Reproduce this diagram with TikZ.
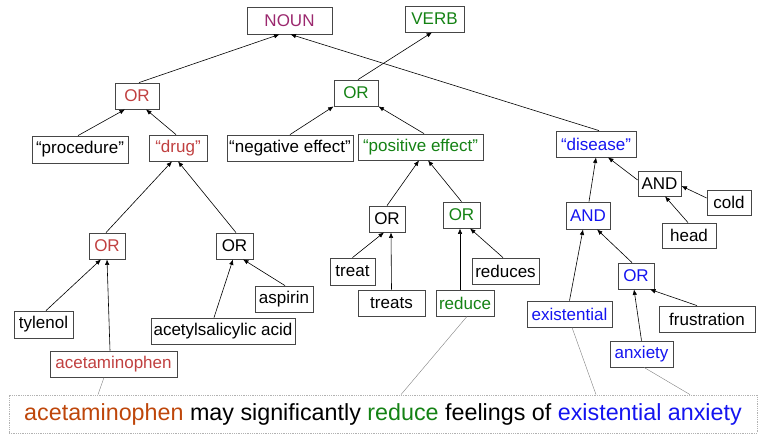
\documentclass[tikz,border=0pt]{standalone}
\usepackage{fontspec}
\setmainfont{Liberation Sans}
\usepackage{xcolor}
\usepackage{tikz}
\usetikzlibrary{arrows.meta}

\definecolor{cNoun}{RGB}{155,40,110}
\definecolor{cRed}{RGB}{192,64,64}
\definecolor{cAcet}{RGB}{190,70,10}
\definecolor{cGreen}{RGB}{20,130,20}
\definecolor{cBlue}{RGB}{20,20,240}
\definecolor{cBox}{RGB}{70,70,70}

\tikzset{
  box/.style={draw=cBox,line width=0.8pt,inner sep=0pt,minimum height=26pt,
    font=\fontsize{17}{19}\selectfont},
  arr/.style={-{Latex[length=5.5pt,width=4.5pt]},line width=0.6pt},
  link/.style={gray,line width=0.4pt}
}

\begin{document}
\begin{tikzpicture}[x=1pt,y=-1pt]
  \useasboundingbox (0,0) rectangle (768,441);
  \node[box,minimum width=85pt,minimum height=27pt,text=cNoun] (noun) at (289.5,20.5) {NOUN};
  \node[box,minimum width=59pt,text=cGreen] (verb) at (434.5,19) {VERB};
  \node[box,minimum width=44pt,text=cRed] (orNoun) at (137,96) {OR};
  \node[box,minimum width=44pt,text=cGreen] (orVerb) at (356,93) {OR};
  \node[box,minimum width=96pt,minimum height=27pt] (procedure) at (80,149.5) {“procedure”};
  \node[box,minimum width=58pt,text=cRed] (drug) at (178,148) {“drug”};
  \node[box,minimum width=126pt] (negEffect) at (290,148) {“negative effect”};
  \node[box,minimum width=125pt,text=cGreen] (posEffect) at (420.5,147) {“positive effect”};
  \node[box,minimum width=80pt,text=cBlue] (disease) at (596,144) {“disease”};
  \node[box,minimum width=43pt,minimum height=25pt] (andCold) at (659.5,183.5) {AND};
  \node[box,minimum width=44pt,minimum height=25pt] (cold) at (729,202.5) {cold};
  \node[box,minimum width=44pt,minimum height=27pt,text=cBlue] (andDis) at (588,215.5) {AND};
  \node[box,minimum width=54pt,minimum height=25pt] (head) at (689,235.5) {head};
  \node[box,minimum width=36pt,text=cBlue] (orAnx) at (636,276) {OR};
  \node[box,minimum width=96pt] (frustration) at (707,319) {frustration};
  \node[box,minimum width=85pt,text=cBlue] (existential) at (569.5,314) {existential};
  \node[box,minimum width=63pt,text=cBlue] (anxiety) at (641.5,354) {anxiety};
  \node[box,minimum width=67pt] (reduces) at (505.5,271) {reduces};
  \node[box,minimum width=58pt,text=cGreen] (reduce) at (465,303) {reduce};
  \node[box,minimum width=36pt] (orTreat) at (387,219) {OR};
  \node[box,minimum width=37pt,text=cGreen] (orReduce) at (461.5,215) {OR};
  \node[box,minimum width=45pt,minimum height=27pt] (treat) at (352.5,271.5) {treat};
  \node[box,minimum width=67pt] (treats) at (391.5,303) {treats};
  \node[box,minimum width=36pt,text=cRed] (orTyl) at (107,246) {OR};
  \node[box,minimum width=37pt] (orAsp) at (234.5,246) {OR};
  \node[box,minimum width=59pt,minimum height=27pt] (tylenol) at (43.5,324.5) {tylenol};
  \node[box,minimum width=144pt] (acetyl) at (223,331) {acetylsalicylic acid};
  \node[box,minimum width=58pt] (aspirin) at (284,299) {aspirin};
  \node[box,minimum width=127pt,text=cRed] (acetam) at (113.5,364) {acetaminophen};
  \node[draw=gray!60,densely dotted,line width=0.8pt,inner sep=0pt,minimum width=748pt,
    minimum height=38pt,font=\fontsize{23.3}{26}\selectfont] (sentence) at (383,414)
    {\textcolor{cAcet}{acetaminophen} may significantly \textcolor{cGreen}{reduce} feelings of \textcolor{cBlue}{existential anxiety}};

  \draw[arr] ([xshift=2pt]orNoun.north) -- ([xshift=-10pt]noun.south);
  \draw[arr] ([xshift=3pt]disease.north) -- ([xshift=1pt]noun.south);
  \draw[arr] ([xshift=2pt]orVerb.north) -- ([xshift=-2.5pt]verb.south);
  \draw[arr] (negEffect.north) -- (orVerb.south west);
  \draw[arr] ([xshift=3.5pt]posEffect.north) -- (orVerb.south east);
  \draw[arr] ([xshift=-2pt]procedure.north) -- ([xshift=-12pt]orNoun.south);
  \draw[arr] ([xshift=-2pt]drug.north) -- ([xshift=9pt]orNoun.south);
  \draw[arr] ([xshift=-1pt]orTyl.north) -- ([xshift=-6pt]drug.south);
  \draw[arr] ([xshift=1.5pt]orAsp.north) -- (drug.south);
  \draw[arr] ([xshift=2.5pt]tylenol.north) -- ([xshift=-6pt]orTyl.south);
  \draw[arr] ([xshift=-3.5pt]acetam.north) -- (orTyl.south);
  \draw[arr] ([xshift=-9pt]acetyl.north) -- ([xshift=-1.5pt]orAsp.south);
  \draw[arr] ([xshift=1pt]aspirin.north) -- ([xshift=8.5pt]orAsp.south);
  \draw[arr] (orTreat.north) -- ([xshift=-1.5pt]posEffect.south);
  \draw[arr] (orReduce.north) -- ([xshift=7.5pt]posEffect.south);
  \draw[arr] (treat.north) -- ([xshift=-3pt]orTreat.south);
  \draw[arr] (treats.north) -- ([xshift=4pt]orTreat.south);
  \draw[arr] ([xshift=-5pt]reduce.north) -- ([xshift=-1.5pt]orReduce.south);
  \draw[arr] ([xshift=-2.5pt]reduces.north) -- ([xshift=8.5pt]orReduce.south);
  \draw[arr] ([xshift=1pt]andDis.north) -- (disease.south);
  \draw[arr] ([yshift=3.5pt]andCold.west) -- ([xshift=12pt]disease.south);
  \draw[arr] ([yshift=4.5pt]cold.west) -- ([yshift=-2.5pt]andCold.east);
  \draw[arr] ([xshift=-1pt]head.north) -- ([xshift=5.5pt]andCold.south);
  \draw[arr] ([xshift=-4pt]orAnx.north) -- ([xshift=9pt]andDis.south);
  \draw[arr] (existential.north) -- ([xshift=-5pt]andDis.south);
  \draw[arr] (anxiety.north) -- ([xshift=-2pt]orAnx.south);
  \draw[arr] ([xshift=-10pt]frustration.north) -- ([xshift=14pt]orAnx.south);

  \draw[link] ([xshift=-9.5pt]acetam.south) -- ([xshift=-285pt]sentence.north);
  \draw[link] ([xshift=2pt]reduce.south) -- ([xshift=18pt]sentence.north);
  \draw[link] ([xshift=2.5pt]existential.south) -- ([xshift=213pt]sentence.north);
  \draw[link] ([xshift=2.5pt]anxiety.south) -- ([xshift=307pt]sentence.north);
\end{tikzpicture}
\end{document}
